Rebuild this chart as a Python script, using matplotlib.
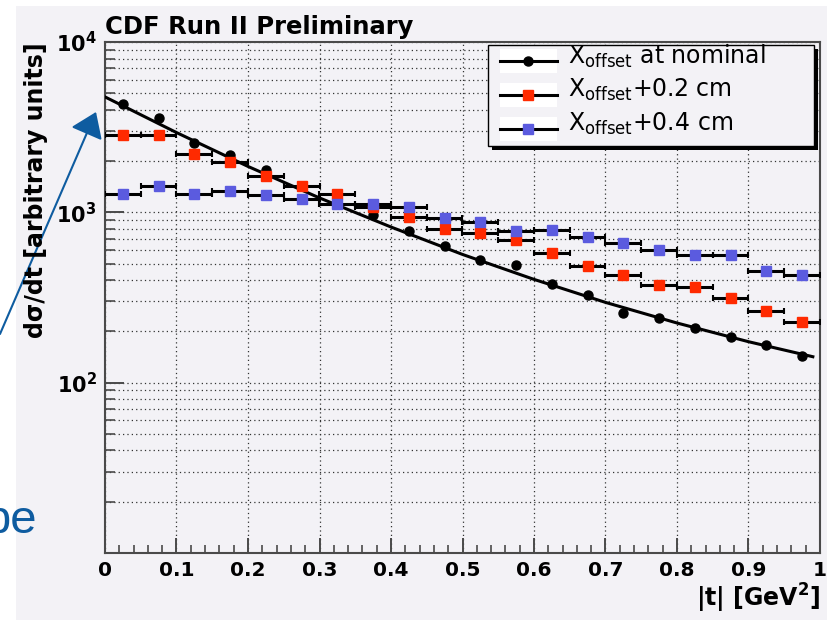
import matplotlib.pyplot as plt
from matplotlib.patches import Rectangle, FancyArrowPatch
from matplotlib.lines import Line2D
from matplotlib.ticker import MultipleLocator, LogLocator, NullFormatter, FuncFormatter

# |t| bin centres (bins 0.05 GeV^2 wide)
t = [0.025, 0.075, 0.125, 0.175, 0.225, 0.275, 0.325, 0.375, 0.425, 0.475,
     0.525, 0.575, 0.625, 0.675, 0.725, 0.775, 0.825, 0.875, 0.925, 0.975]
half_bin = 0.025

nominal = [4300, 3600, 2550, 2160, 1770, 1420, 1180, 960, 778, 631,
           526, 488, 377, 328, 257, 239, 210, 185, 167, 144]
off_02 = [2840, 2840, 2190, 1975, 1635, 1420, 1285, 1078, 935, 798,
          752, 684, 579, 483, 430, 374, 364, 315, 262, 228]
off_04 = [1276, 1428, 1276, 1334, 1259, 1204, 1125, 1125, 1075, 926,
          873, 776, 789, 716, 664, 598, 558, 558, 452, 430]

# fitted curve for the nominal sample
fit_t = [0.0, 0.1, 0.2, 0.3, 0.4, 0.5, 0.6, 0.7, 0.8, 0.9, 0.99]
fit_v = [4760, 2940, 1860, 1215, 820, 566, 404, 296, 224, 174, 142]

labels = [r'X$_\mathrm{offset}$ at nominal',
          r'X$_\mathrm{offset}$+0.2 cm',
          r'X$_\mathrm{offset}$+0.4 cm']

W, H = 828, 620
GRAY = '#f3f2f6'
RED = '#ff2a00'
BLUE = '#5b5bdf'
SLIDE_BLUE = '#0e5ca0'
AXC = '#4a4a4a'


def fx(x):
    return x / W


def fy(y):
    return 1 - y / H


fig = plt.figure(figsize=(W / 100, H / 100), dpi=100, facecolor='white')
fig.add_artist(Rectangle((fx(16), 0), 1, fy(6), transform=fig.transFigure,
                         facecolor=GRAY, edgecolor='none', zorder=-10))

ax = fig.add_axes([fx(105), fy(553), (820 - 105) / W, (553 - 42) / H])
ax.set_facecolor(GRAY)
ax.set_yscale('log')
ax.set_xlim(0, 1)
ax.set_ylim(10, 1e4)

ax.plot(t, nominal, 'o', color='black', ms=6.5, zorder=3)
ax.plot(fit_t, fit_v, color='black', lw=2.2, zorder=3)
ax.errorbar(t, off_02, xerr=half_bin, fmt='s', color=RED, mec=RED, ms=7.5,
            ecolor='black', elinewidth=2.2, capsize=2, capthick=1.5, zorder=4)
ax.errorbar(t, off_04, xerr=half_bin, fmt='s', color=BLUE, mec=BLUE, ms=7.5,
            ecolor='black', elinewidth=2.2, capsize=2, capthick=1.5, zorder=5)

# axes, ticks, grid
ax.xaxis.set_major_locator(MultipleLocator(0.1))
ax.xaxis.set_minor_locator(MultipleLocator(0.02))
ax.xaxis.set_major_formatter(FuncFormatter(lambda v, _: f'{v:g}'))
ax.set_yticks([100, 1000, 10000],
              labels=[r'$\mathbf{10^{2}}$', r'$\mathbf{10^{3}}$', r'$\mathbf{10^{4}}$'])
ax.yaxis.set_minor_locator(LogLocator(base=10, subs=range(2, 10)))
ax.yaxis.set_minor_formatter(NullFormatter())

ax.tick_params(axis='x', which='major', direction='in', length=11, width=1.4,
               color=AXC, labelsize=14.5, pad=6)
ax.tick_params(axis='x', which='minor', direction='in', length=6, width=1.2, color=AXC)
ax.tick_params(axis='y', which='major', direction='in', length=14, width=1.4,
               color=AXC, labelsize=15, pad=6)
ax.tick_params(axis='y', which='minor', direction='in', length=7, width=1.2, color=AXC)
for lab in ax.get_xticklabels():
    lab.set_fontweight('bold')

ax.grid(True, which='major', axis='x', ls=(0, (1, 2.5)), lw=0.9, color='#333333')
ax.grid(True, which='both', axis='y', ls=(0, (1, 2.5)), lw=0.9, color='#333333')
ax.set_axisbelow(True)
for s in ax.spines.values():
    s.set_color(AXC)
    s.set_linewidth(1.5)

ax.set_title('CDF Run II Preliminary', loc='left', fontsize=17.5, fontweight='bold', pad=6)
ax.set_ylabel('d\u03c3/dt [arbitrary units]', loc='top', fontsize=17,
              fontweight='bold', labelpad=6)
ax.set_xlabel(r'|t| [GeV$^\mathbf{2}$]', loc='right', fontsize=17,
              fontweight='bold', labelpad=1)

# legend box drawn ROOT-style with a solid shadow
fig.add_artist(Rectangle((fx(492), fy(150)), (818 - 492) / W, (150 - 49) / H,
                         transform=fig.transFigure, facecolor='black',
                         edgecolor='none', zorder=6))
fig.add_artist(Rectangle((fx(488), fy(146)), (814 - 488) / W, (146 - 45) / H,
                         transform=fig.transFigure, facecolor=GRAY,
                         edgecolor='black', lw=1, zorder=7))
rows = [61, 95, 129]
baselines = [64, 97, 131]
styles = [('o', 'black', 6.5), ('s', RED, 7), ('s', BLUE, 7)]
for yc, yb, lab, (mk, col, ms) in zip(rows, baselines, labels, styles):
    fig.add_artist(Rectangle((fx(500), fy(yc + 12)), 57 / W, 24 / H,
                             transform=fig.transFigure, facecolor='white',
                             edgecolor='none', zorder=8))
    fig.add_artist(Line2D([fx(500), fx(557)], [fy(yc), fy(yc)], color='black',
                          lw=2.2, transform=fig.transFigure, zorder=9))
    fig.add_artist(Line2D([fx(528)], [fy(yc)], marker=mk, color=col, mec=col,
                          ms=ms, transform=fig.transFigure, zorder=10))
    fig.text(fx(568), fy(yb), lab, fontsize=17, va='baseline', zorder=10)

# pieces of the surrounding slide
fig.add_artist(FancyArrowPatch((fx(0), fy(334)), (fx(96), fy(112)),
                               transform=fig.transFigure,
                               arrowstyle='-|>,head_length=1.5,head_width=1.05',
                               mutation_scale=10, color=SLIDE_BLUE, lw=1.5,
                               shrinkA=0, shrinkB=0, zorder=-5))
fig.text(fx(37), fy(533), 'be', ha='right', va='baseline', fontsize=34,
         color=SLIDE_BLUE, family='Liberation Sans')

fig.savefig('out.png', dpi=100, facecolor='white')
